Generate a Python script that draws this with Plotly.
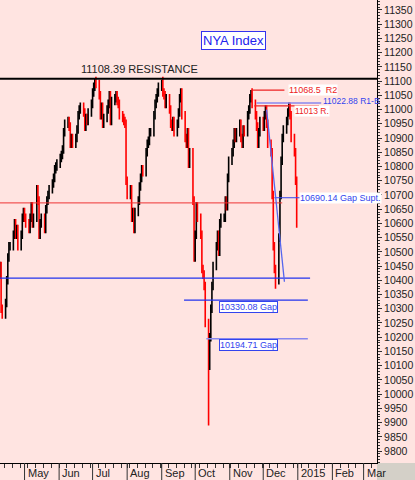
import pandas as pd
import plotly.graph_objects as go

# Daily closes, weekly groups starting Mon 2014-04-07
close = [
    10500, 10420, 10450, 10300, 10280,
    10320, 10400, 10480, 10520, 10520,
    10560, 10600, 10560, 10580, 10520,
    10560, 10620, 10640, 10620, 10600,
    10580, 10620, 10660, 10600, 10620,
    10720, 10680, 10560, 10600, 10620,
    10580, 10650, 10680, 10700, 10720,
    10740, 10760, 10790, 10800, 10810,
    10830, 10840, 10860, 10920, 10950,
    10960, 10940, 10880, 10900, 10880,
    10900, 10930, 10980, 11000, 11010,
    10990, 10940, 10970, 10960, 10990,
    11020, 11060, 11080, 11100, 11090,
    11050, 10980, 11010, 10950, 10970,
    11000, 11020, 11050, 10960, 11030,
    11040, 11050, 11030, 11020, 10980,
    10970, 10960, 10950, 10750, 10700,
    10720, 10620, 10640, 10580, 10640,
    10680, 10730, 10760, 10790, 10780,
    10850, 10880, 10890, 10920, 10920,
    10980, 11020, 11040, 11060, 11080,
    11100, 11060, 11050, 11020, 11040,
    11000, 10950, 10940, 10960, 10920,
    10950, 10990, 11040, 11060, 10980,
    10900, 10880, 10920, 10810, 10850,
    10680, 10480, 10560, 10660, 10620,
    10560, 10440, 10420, 10380, 10250,
    10100, 10200, 10300, 10380, 10450,
    10520, 10560, 10500, 10600, 10620,
    10620, 10680, 10660, 10760, 10820,
    10850, 10880, 10920, 10900, 10920,
    10950, 10900, 10880, 10930, 10920,
    10980, 11000, 11040, 11060, 11020,
    10980, 10940, 10880, 10920, 10960,
    10940, 10980, 11000, 10950, 10880,
    10850, 10700, 10520, 10440, 10400,
    10550, 10700, 10820, 10900, 10930,
    10960, 10990, 11010, 10980, 10900,
    10850, 10750, 10600,
]
first_open = 10550
# explicit extremes
low_override = {"2014-10-13": 9890, "2014-12-12": 10370}
high_override = {"2014-07-03": 11108, "2014-09-01": 11105, "2014-11-20": 11068.5}

dates = pd.bdate_range("2014-04-07", periods=len(close))
opens = [first_open] + close[:-1]
pad = 15
high = [max(o, c) + pad for o, c in zip(opens, close)]
low = [min(o, c) - pad for o, c in zip(opens, close)]
for i, d in enumerate(dates):
    k = d.strftime("%Y-%m-%d")
    if k in low_override:
        low[i] = low_override[k]
    if k in high_override:
        high[i] = high_override[k]

fig = go.Figure(go.Ohlc(
    x=dates, open=opens, high=high, low=low, close=close,
    increasing=dict(line=dict(color="black", width=1.6)),
    decreasing=dict(line=dict(color="red", width=1.6)),
    tickwidth=0.4, showlegend=False, hoverinfo="skip"))

def hline(x0, x1, y, color, w=1):
    fig.add_shape(type="line", xref="x", yref="y", x0=x0, x1=x1, y0=y, y1=y,
                  line=dict(color=color, width=w))

fig.add_shape(type="line", xref="paper", yref="y", x0=0, x1=1, y0=11108.39, y1=11108.39,
              line=dict(color="black", width=2))
hline("2014-04-01", "2014-12-18", 10672, "#ee3333", 1)
hline("2014-04-01", "2015-01-12", 10408, "#2233ee", 1.3)
hline("2014-09-21", "2015-01-10", 10330.08, "#2233ee", 1.3)
hline("2014-10-11", "2015-01-10", 10194.71, "#8888ee", 1.5)
hline("2014-12-11", "2015-03-14", 10690.14, "#3344ee", 1)
hline("2014-11-21", "2014-12-20", 11068.5, "#ee2222", 1.3)
hline("2014-11-23", "2015-01-20", 11013, "#ee2222", 1.3)
hline("2014-11-25", "2015-01-22", 11022.88, "#8888ee", 1.5)
fig.add_shape(type="line", xref="x", yref="y", x0="2014-12-04", y0=11000,
              x1="2014-12-20", y1=10395, line=dict(color="#5566ee", width=1.3))
fig.add_shape(type="rect", xref="paper", yref="paper", x0=1, x1=1 + 38 / 377,
              y0=-17 / 463, y1=0, fillcolor="#d4d0c8", line=dict(width=0), layer="below")

month_ticks = ["2014-05-01", "2014-06-01", "2014-07-01", "2014-08-01", "2014-09-01",
               "2014-10-01", "2014-11-01", "2014-12-01", "2015-01-01", "2015-02-01", "2015-03-01"]
month_labels = ["May", "Jun", "Jul", "Aug", "Sep", "Oct", "Nov", "Dec", "2015", "Feb", "Mar"]
y_ticks = list(range(9800, 11351, 50))

for t, lab in zip(month_ticks, month_labels):
    fig.add_shape(type="line", xref="x", yref="paper", x0=t, x1=t, y0=0, y1=-17 / 463,
                  line=dict(color="#333", width=1))
    fig.add_annotation(x=t, y=-2 / 463, xref="x", yref="paper", text=lab, showarrow=False,
                       xanchor="left", yanchor="top", xshift=1,
                       font=dict(size=11, family="Arial", color="#222"))

def label(x, y, text, color, bg="white", border=None, size=9):
    fig.add_annotation(x=x, y=y, xref="x", yref="y", text=text, showarrow=False,
                       xanchor="left", font=dict(color=color, size=size, family="Arial"),
                       bgcolor=bg, bordercolor=border or "rgba(0,0,0,0)", borderwidth=1, borderpad=0)

label("2014-12-29", 10996, "11013 R.", "#ee2222", size=8.5)
label("2014-12-23", 11068.5, "11068.5  R2", "#ee2222")
label("2015-01-23", 11030, "11022.88 R1-B", "#3344ee", bg="rgba(0,0,0,0)", size=8.5)
label("2015-01-02", 10690.14, "10690.14 Gap Supt.", "#3344ee")
label("2014-10-22", 10306, "10330.08 Gap", "#3344ee", border="#3344ee")
label("2014-10-22", 10172, "10194.71 Gap", "#3344ee", border="#3344ee")
fig.add_annotation(x="2014-08-12", y=11143, xref="x", yref="y", text="11108.39 RESISTANCE",
                   showarrow=False, font=dict(size=11, color="#222", family="Arial"))
fig.add_annotation(x=233 / 377, y=1 - 31 / 463, xref="paper", yref="paper", text="NYA Index",
                   showarrow=False, font=dict(size=13, color="#2222ee", family="Arial"),
                   bgcolor="white", bordercolor="#3333ee", borderwidth=1, borderpad=1)

fig.update_layout(
    width=415, height=480, margin=dict(l=0, r=38, t=0, b=17),
    paper_bgcolor="#ffe4e1", plot_bgcolor="#ffe4e1",
    xaxis=dict(type="date", range=["2014-04-09", "2015-03-13"], rangeslider=dict(visible=False),
               tickvals=month_ticks, showticklabels=False,
               ticks="outside", ticklen=4, tickcolor="#333", showgrid=False, showline=True,
               linecolor="black",
               minor=dict(dtick=7 * 86400000, ticks="outside", ticklen=4, tickcolor="#333")),
    yaxis=dict(side="right", range=[9758, 11385], tickvals=y_ticks, tickformat="d",
               showgrid=False, ticks="outside", ticklen=4, tickcolor="#333", showline=True,
               linecolor="black", tickfont=dict(size=10.5, family="Arial", color="#222"),
               minor=dict(dtick=10, ticks="outside", ticklen=2, tickcolor="#333")),
)
fig.write_html("out.html", config={"displayModeBar": False},
               post_script="document.body.style.margin='0';document.body.style.overflow='hidden';")
